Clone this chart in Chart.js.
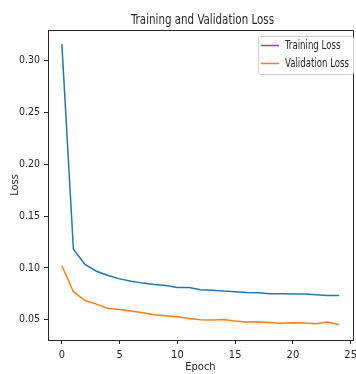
<!DOCTYPE html>
<html>
<head>
<meta charset="utf-8">
<script src="https://cdn.jsdelivr.net/npm/chart.js@4.4.0/dist/chart.umd.min.js"></script>
<style>
  html, body { margin: 0; padding: 0; background: #fff; overflow: hidden; }
  #wrap { width: 362px; height: 374px; }
</style>
</head>
<body>
<div id="wrap"><canvas id="lossChart" width="362" height="374"></canvas></div>
<script>
// training history
const epochs = [0,1,2,3,4,5,6,7,8,9,10,11,12,13,14,15,16,17,18,19,20,21,22,23,24];
const trainLoss = [0.316, 0.118, 0.1033, 0.0968, 0.0926, 0.0894, 0.0872, 0.0853, 0.084, 0.083,
	0.081, 0.081, 0.079, 0.0785, 0.0776, 0.077, 0.0763, 0.076, 0.075, 0.075,
	0.0747, 0.0747, 0.074, 0.0734, 0.0734];
const valLoss = [0.102, 0.077, 0.0685, 0.065, 0.0608, 0.0599, 0.0583, 0.0567, 0.0548, 0.0538,
	0.0528, 0.0512, 0.050, 0.0497, 0.0503, 0.0488, 0.0478, 0.048, 0.0474, 0.0465,
	0.047, 0.0468, 0.0461, 0.0478, 0.0451];
const xTicks = [0, 5, 10, 15, 20, 25];
const yTicks = [0.05, 0.10, 0.15, 0.20, 0.25, 0.30];
const chartTitle = 'Training and Validation Loss';

const FONT = "'DejaVu Sans Condensed', 'DejaVu Sans', sans-serif";
const AXIS = '#262626';

// text squeezed sideways to look like the narrow matplotlib export
function narrowText(ctx, text, x, y, width) {
	const sx = width / ctx.measureText(text).width;
	ctx.save();
	ctx.translate(x, y);
	ctx.scale(sx, 1);
	ctx.fillText(text, 0, 0);
	ctx.restore();
}

// matplotlib style frame, title + legend box
const framePlugin = {
	id: 'frame',
	afterDraw(chart) {
		const ctx = chart.ctx;
		const a = chart.chartArea;
		ctx.save();
		ctx.strokeStyle = AXIS;
		ctx.lineWidth = 1;
		ctx.strokeRect(a.left + 0.5, a.top + 0.5, a.right - a.left, a.bottom - a.top);

		// title centred on the plot area
		ctx.fillStyle = AXIS;
		ctx.font = '14px ' + FONT;
		ctx.textAlign = 'left';
		ctx.textBaseline = 'alphabetic';
		narrowText(ctx, chartTitle, 131, 24, 143);

		// legend
		const x0 = 258, y0 = 36, w = 95, h = 38;
		ctx.fillStyle = 'rgba(255,255,255,0.8)';
		ctx.strokeStyle = '#d0d0d0';
		ctx.beginPath();
		ctx.roundRect(x0 + 0.5, y0 + 0.5, w, h, 2);
		ctx.fill();
		ctx.stroke();
		ctx.font = '12px ' + FONT;
		ctx.textBaseline = 'middle';
		const sx = 64 / ctx.measureText('Validation Loss').width;
		chart.data.datasets.forEach((ds, i) => {
			const y = y0 + 9.5 + i * 18;
			ctx.strokeStyle = ds.borderColor;
			ctx.lineWidth = 1.5;
			ctx.beginPath();
			ctx.moveTo(x0 + 3, y);
			ctx.lineTo(x0 + 21, y);
			ctx.stroke();
			ctx.fillStyle = AXIS;
			narrowText(ctx, ds.label, x0 + 27, y, ctx.measureText(ds.label).width * sx);
		});
		ctx.restore();
	}
};

const data = {
	datasets: [{
		label: 'Training Loss',
		data: epochs.map((e, i) => ({ x: e, y: trainLoss[i] })),
		borderColor: '#1f77b4',
		borderWidth: 1.5,
		pointRadius: 0,
		tension: 0
	}, {
		label: 'Validation Loss',
		data: epochs.map((e, i) => ({ x: e, y: valLoss[i] })),
		borderColor: '#ff7f0e',
		borderWidth: 1.5,
		pointRadius: 0,
		tension: 0
	}]
};

const config = {
	type: 'line',
	data: data,
	options: {
		responsive: false,
		animation: false,
		layout: {
			padding: { left: 0, right: 5, top: 30, bottom: 0 }
		},
		scales: {
			x: {
				type: 'linear',
				min: -1.2,
				max: 25.2,
				afterBuildTicks: (scale) => { scale.ticks = xTicks.map(v => ({ value: v })); },
				afterFit: (scale) => { scale.height = 34; },
				grid: { display: true, drawOnChartArea: false, drawTicks: true, tickLength: 4, color: AXIS },
				border: { color: AXIS },
				ticks: {
					color: AXIS,
					padding: 5,
					maxRotation: 0,
					font: { family: FONT, size: 11 },
					callback: (v) => String(v)
				},
				title: {
					display: true,
					text: 'Epoch',
					color: AXIS,
					padding: { top: 3, bottom: 0 },
					font: { family: FONT, size: 11 }
				}
			},
			y: {
				min: 0.0304,
				max: 0.3296,
				afterBuildTicks: (scale) => { scale.ticks = yTicks.map(v => ({ value: v })); },
				afterFit: (scale) => { scale.width = 48; },
				grid: { display: true, drawOnChartArea: false, drawTicks: true, tickLength: 4, color: AXIS },
				border: { color: AXIS },
				ticks: {
					color: AXIS,
					padding: 4,
					font: { family: FONT, size: 10.5 },
					callback: (v) => v.toFixed(2)
				},
				title: {
					display: true,
					text: 'Loss',
					color: AXIS,
					padding: { top: 9, bottom: 0 },
					font: { family: FONT, size: 11 }
				}
			}
		},
		plugins: {
			legend: { display: false },
			tooltip: { enabled: false },
			title: { display: false }
		}
	},
	plugins: [framePlugin]
};

document.addEventListener('DOMContentLoaded', () => {
	const ctx = document.getElementById('lossChart').getContext('2d');
	new Chart(ctx, config);
});
</script>
</body>
</html>
